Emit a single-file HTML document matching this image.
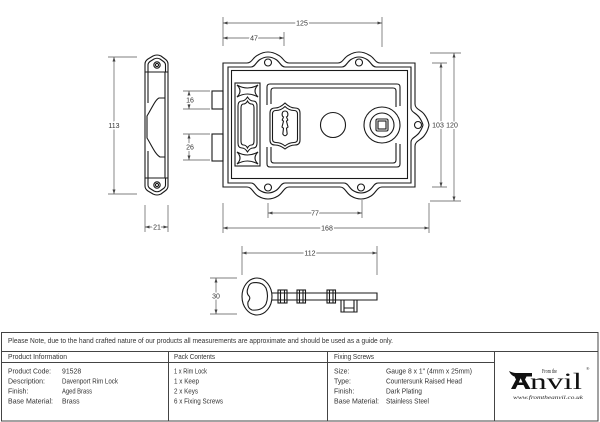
<!DOCTYPE html>
<html><head><meta charset="utf-8"><style>
html,body{margin:0;padding:0;background:#fff;}
svg{display:block;}
.l{fill:none;stroke:#1a1a1a;stroke-width:1.1;}
.d{fill:none;stroke:#555;stroke-width:0.7;}
.da{fill:none;stroke:#555;stroke-width:0.7;marker-start:url(#a);marker-end:url(#a);}
.dt{font-family:"Liberation Sans",sans-serif;font-size:7px;fill:#333;text-anchor:middle;paint-order:stroke;stroke:#fff;stroke-width:3px;}
.t{font-family:"Liberation Sans",sans-serif;font-size:6.9px;fill:#333;}
</style></head><body>
<svg width="600" height="422" viewBox="0 0 600 422" xmlns="http://www.w3.org/2000/svg">
<defs>
<marker id="a" viewBox="0 0 6 4" refX="6" refY="2" markerWidth="4.5" markerHeight="3" markerUnits="userSpaceOnUse" orient="auto-start-reverse"><path d="M0,0 L6,2 L0,4 z" fill="#444"/></marker>
</defs>
<rect width="600" height="422" fill="#fff"/>

<!-- ===== KEEP (side view) ===== -->
<g class="l">
<path d="M145,72 V64 Q145,61 148,59 L153,56 Q157,54 161,56 L165,59 Q168,61 168,64 V72"/>
<path d="M148,72 V65 Q148,63 150,61.5 L154,59 Q157,57.5 160,59 L163.5,61.5 Q165.5,63 165.5,65 V72"/>
<circle cx="157" cy="65" r="3.2"/><circle cx="157" cy="65" r="1.6"/>
<path d="M145,72 H168"/>
<path d="M145,72 V178 M168,72 V178 M165,72 V178 M148,72 V103 M148,151 V178"/>
<path d="M165,98 H159 C155,100 152,108 147,116 V138 C152,146 155,154 160,157 H165"/>
<path d="M145,178 H168"/>
<path d="M145,178 V186 Q145,189 148,191 L153,194 Q157,196 161,194 L165,191 Q168,189 168,186 V178"/>
<path d="M148,178 V185 Q148,187 150,188.5 L154,191 Q157,192.5 160,191 L163.5,188.5 Q165.5,187 165.5,185 V178"/>
<circle cx="157" cy="185" r="3.2"/><circle cx="157" cy="185" r="1.6"/>
</g>
<!-- keep dims -->
<path class="d" d="M108,57 H137 M108,194 H137 M145,205 V232 M168,205 V232"/>
<path class="da" d="M114,57 V194"/>
<text class="dt" x="114" y="128">113</text>
<path class="da" d="M145,227 H168"/>
<text class="dt" x="157" y="229.5">21</text>

<!-- bolts -->
<g class="l">
<rect x="212" y="91" width="11" height="18"/>
<rect x="212" y="134" width="11" height="27"/>
</g>
<path class="d" d="M183,91 H210 M183,109 H210 M183,134 H210 M183,160 H210"/>
<path class="da" d="M189,91 V109"/>
<text class="dt" x="190" y="102.5">16</text>
<path class="da" d="M189,134 V160"/>
<text class="dt" x="190" y="149.5">26</text>

<!-- ===== MAIN LOCK ===== -->
<g class="l">
<path d="M223,63 H247 C252,63 253,57 258,55 Q263,52 268,52 Q273,52 278,55 C283,57 284,63 289,63 H338 C343,63 344,57 349,55 Q354,52 359,52 Q364,52 369,55 C374,57 375,63 380,63 H415 V104 C415,109 421,110 424,114 Q428,119 429,125 Q428,131 424,136 C421,140 415,141 415,146 V187 H382 C377,187 376,193 371,196 Q366,199 361,199 Q356,199 351,196 C346,193 345,187 340,187 H289 C284,187 283,193 278,196 Q273,199 268,199 Q263,199 258,196 C253,193 252,187 247,187 H223 Z"/>
<path d="M228,67 H251 C255,67 256,62 260,59.5 Q264,57 268,57 Q272,57 276,59.5 C280,62 281,67 285,67 H342 C346,67 347,62 351,59.5 Q355,57 359,57 Q363,57 367,59.5 C371,62 372,67 376,67 H411 V108 C411,112 416,113 419,117 Q422,121 423,125 Q422,129 419,133 C416,137 411,138 411,142 V183 H378 C374,183 373,188 369,190.5 Q365,193 361,193 Q357,193 353,190.5 C349,188 348,183 344,183 H285 C281,183 280,188 276,190.5 Q272,193 268,193 Q264,193 260,190.5 C256,188 255,183 251,183 H228 Z"/>
<rect x="231.5" y="70.5" width="176" height="108"/>
<circle cx="268" cy="62.5" r="3.5"/>
<circle cx="359" cy="62.5" r="3.5"/>
<circle cx="268" cy="187.5" r="3.5"/>
<circle cx="361" cy="187.5" r="3.5"/>
<circle cx="418" cy="125" r="3.5"/>

<rect x="235" y="83" width="25" height="83"/>
<path d="M237,85 Q247.5,91 258,85 Q252,91 258,97 Q247.5,91 237,97 Q243,91 237,85 Z"/>
<path d="M237,152 Q247.5,158 258,152 Q252,158 258,164 Q247.5,158 237,164 Q243,158 237,152 Z"/>
<path d="M238,106 Q238,101 242,101 Q245,101 247.5,97 Q250,101 253,101 Q257,101 257,106 V143 Q257,148 253,148 Q250,148 247.5,152 Q245,148 242,148 Q238,148 238,143 Z"/>
<path d="M241,108 Q241,104 243.5,104 Q246,104 247.5,101 Q249,104 251.5,104 Q254,104 254,108 V141 Q254,145 251.5,145 Q249,145 247.5,148 Q246,145 243.5,145 Q241,145 241,141 Z"/>

<path d="M267,105 V87 Q267,84 270,84 H397 Q400,84 400,87 V106"/>
<path d="M400,144 V164 Q400,167 397,167 H270 Q267,167 267,164 V147"/>
<path d="M271,104 V91 Q271,88 274,88 H393 Q396,88 396,91 V107"/>
<path d="M396,143 V160 Q396,163 393,163 H274 Q271,163 271,160 V147"/>

<path d="M275,108 Q280,108 285,103 Q290,108 295,108 Q300,108 300,113 V140 Q300,145 295,145 Q290,145 285,149 Q280,145 275,145 Q270,145 270,140 V113 Q270,108 275,108 Z"/>
<path d="M276,110.5 Q281,110.5 285,106.5 Q289,110.5 294,110.5 Q297.5,110.5 297.5,114 V139 Q297.5,142.5 294,142.5 Q289,142.5 285,146 Q281,142.5 276,142.5 Q272.5,142.5 272.5,139 V114 Q272.5,110.5 276,110.5 Z"/>
<path d="M285,111 C288.5,111 288.5,116 286.5,117 L287.8,120 L286.5,121.2 L288,127 L286.5,128.2 L287.2,134 Q285,137.5 282.8,134 L283.5,128.2 L282,127 L283.5,121.2 L282.2,120 L283.5,117 C281.5,116 281.5,111 285,111 Z"/>

<circle cx="333" cy="125" r="12.5"/>
<circle cx="382" cy="125" r="18"/>
<circle cx="382" cy="125" r="12"/>
<rect x="376" y="119" width="12" height="12" rx="1.5"/>
<rect x="378" y="121" width="8" height="8"/>
</g>

<path class="d" d="M223,17 V46 M382,17 V47 M284,32 V46 M223,203 V233 M429,203 V233 M268,203 V218 M362,200 V218 M430,53 H461 M430,201 H461 M432,63 H447 M432,187 H447"/>
<path class="da" d="M223,23 H382"/>
<text class="dt" x="302" y="25.5">125</text>
<path class="da" d="M223,38 H284"/>
<text class="dt" x="254" y="40.5">47</text>
<path class="da" d="M268,213 H362"/>
<text class="dt" x="315" y="215.5">77</text>
<path class="da" d="M223,228 H429"/>
<text class="dt" x="327" y="230.5">168</text>
<path class="da" d="M441,63 V187"/>
<path class="da" d="M454,53 V201"/>
<text class="dt" x="438" y="127.5">103</text>
<text class="dt" x="452" y="127.5">120</text>

<!-- ===== KEY ===== -->
<g class="l">
<ellipse cx="257" cy="296.5" rx="15" ry="18.5"/>
<path d="M252,283 Q262,281 266,288 Q269,296 266,304 Q262,311 252,310 Q247,308 248,302 Q251,298 249,296 Q246,293 248,288 Q249,284 252,283 Z"/>
<path d="M271.5,293 H377 V300 H271.5"/>
<rect x="278" y="290" width="9" height="13"/>
<path d="M280.5,290 V303 M284.5,290 V303"/>
<rect x="297" y="290" width="8.5" height="13"/>
<path d="M299.5,290 V303 M303,290 V303"/>
<rect x="327" y="290" width="8.5" height="13"/>
<path d="M329.5,290 V303 M333,290 V303"/>
<path d="M341,300 V312 H357 V300 M344,300 V308 H354 V300 M344,308 V312 M354,308 V312"/>
</g>
<path class="d" d="M242,246 V275 M377,246 V275 M210,278 H237 M210,314 H237"/>
<path class="da" d="M242,253 H377"/>
<text class="dt" x="310" y="255.5">112</text>
<path class="da" d="M216,278 V314"/>
<text class="dt" x="216" y="298.5">30</text>

<!-- ===== TABLE ===== -->
<g fill="none" stroke="#444" stroke-width="1">
<rect x="1.5" y="332.5" width="596.5" height="88.5"/>
<path d="M1.5,351.5 H598 M1.5,362.5 H494.5 M168.5,351.5 V421 M327.5,351.5 V421 M494.5,351.5 V421"/>
</g>
<text class="t" x="8" y="343" textLength="385" lengthAdjust="spacingAndGlyphs">Please Note, due to the hand crafted nature of our products all measurements are approximate and should be used as a guide only.</text>
<text class="t" x="8" y="359" textLength="59" lengthAdjust="spacingAndGlyphs">Product Information</text>
<text class="t" x="174" y="359" textLength="41" lengthAdjust="spacingAndGlyphs">Pack Contents</text>
<text class="t" x="334" y="359" textLength="40" lengthAdjust="spacingAndGlyphs">Fixing Screws</text>

<text class="t" x="8" y="373.5" textLength="43" lengthAdjust="spacingAndGlyphs">Product Code:</text>
<text class="t" x="8" y="383.5" textLength="37" lengthAdjust="spacingAndGlyphs">Description:</text>
<text class="t" x="8" y="393.5">Finish:</text>
<text class="t" x="8" y="403.5" textLength="45" lengthAdjust="spacingAndGlyphs">Base Material:</text>
<text class="t" x="62" y="373.5">91528</text>
<text class="t" x="62" y="383.5" textLength="56" lengthAdjust="spacingAndGlyphs">Davenport Rim Lock</text>
<text class="t" x="62" y="393.5" textLength="30" lengthAdjust="spacingAndGlyphs">Aged Brass</text>
<text class="t" x="62" y="403.5">Brass</text>

<text class="t" x="174" y="373.5" textLength="33" lengthAdjust="spacingAndGlyphs">1 x Rim Lock</text>
<text class="t" x="174" y="383.5" textLength="25" lengthAdjust="spacingAndGlyphs">1 x Keep</text>
<text class="t" x="174" y="393.5" textLength="24" lengthAdjust="spacingAndGlyphs">2 x Keys</text>
<text class="t" x="174" y="403.5" textLength="49" lengthAdjust="spacingAndGlyphs">6 x Fixing Screws</text>

<text class="t" x="334" y="373.5">Size:</text>
<text class="t" x="334" y="383.5">Type:</text>
<text class="t" x="334" y="393.5">Finish:</text>
<text class="t" x="334" y="403.5" textLength="45" lengthAdjust="spacingAndGlyphs">Base Material:</text>
<text class="t" x="386" y="373.5" textLength="86" lengthAdjust="spacingAndGlyphs">Gauge 8 x 1" (4mm x 25mm)</text>
<text class="t" x="386" y="383.5" textLength="76" lengthAdjust="spacingAndGlyphs">Countersunk Raised Head</text>
<text class="t" x="386" y="393.5" textLength="36" lengthAdjust="spacingAndGlyphs">Dark Plating</text>
<text class="t" x="386" y="403.5" textLength="43" lengthAdjust="spacingAndGlyphs">Stainless Steel</text>

<!-- logo -->
<path d="M509,371 Q513,373 516,373 H532 V376.5 H526.5 L525,379.5 L530.5,389 H525.5 L523.5,385 H517.5 L515.5,389 H511 L516,379.5 L514.5,376.5 Q511,375.5 509,371 Z M518.8,382.5 H522.5 L520.8,378.5 H520.5 Z" fill="#111"/>
<text x="530" y="389" font-family="'Liberation Serif',serif" font-size="23" fill="#111" textLength="52" lengthAdjust="spacingAndGlyphs">nvil</text>
<text x="542" y="373" font-family="'Liberation Serif',serif" font-size="6" fill="#222" textLength="15" lengthAdjust="spacingAndGlyphs">From the</text>
<text x="586" y="370" font-family="'Liberation Serif',serif" font-size="4.5" fill="#222">®</text>
<text x="513" y="399" font-family="'Liberation Serif',serif" font-style="italic" font-size="5.5" fill="#222" textLength="70" lengthAdjust="spacingAndGlyphs">www.fromtheanvil.co.uk</text>
</svg>
</body></html>
